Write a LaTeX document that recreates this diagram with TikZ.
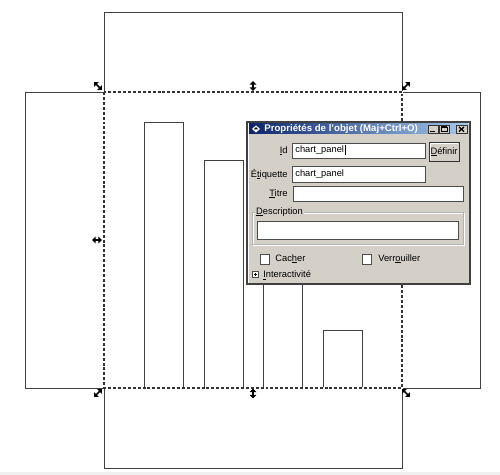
\documentclass[tikz,border=0pt]{standalone}
\usepackage{fontspec}
\setmainfont{Liberation Sans}
\usetikzlibrary{arrows.meta}
\definecolor{dlgbg}{HTML}{D4D0C8}
\definecolor{titleL}{HTML}{0A246A}
\definecolor{titleR}{HTML}{A6CAF0}
\definecolor{shapeln}{HTML}{404040}
\newcommand\dlgfont{\fontsize{5.3}{6}\selectfont}
\newcommand\ul[1]{\setbox0\hbox{#1}\rlap{\rule[-0.7pt]{\wd0}{0.3pt}}#1}

\begin{document}
\begin{tikzpicture}[x=0.02cm, y=-0.02cm,
  shp/.style={draw=shapeln, line width=0.5pt},
  handle/.style={line width=0.9pt, {Triangle[length=2pt,width=3.6pt]}-{Triangle[length=2pt,width=3.6pt]}},
  field/.style={fill=white, draw=gray!60!black, line width=0.5pt},
  lbl/.style={inner sep=0pt, font=\dlgfont},
  btn/.style={fill=dlgbg, draw=gray!40!black, line width=0.5pt}]
\useasboundingbox (0,0) rectangle (500,475);
\fill[gray!12] (0,472) rectangle (500,475);

% cross of panels
\draw[shp] (104,12) rectangle (402,92);
\draw[shp] (25,92) rectangle (480,388);
\draw[shp] (104,388) rectangle (402,468);

% bars
\draw[shp] (144,388) rectangle (183,122);
\draw[shp] (204,388) rectangle (243,160);
\draw[shp] (263,388) rectangle (302,230);
\draw[shp] (323,388) rectangle (362,330);

% selection box
\draw[white, line width=0.6pt] (104,92) rectangle (402,388);
\draw[black!80, line width=0.6pt, dash pattern=on 1.7pt off 1.1pt] (104,92) rectangle (402,388);
\draw[handle] (94,82) -- (102,90);
\draw[handle] (253,81) -- (253,91);
\draw[handle] (402,90) -- (410,82);
\draw[handle] (92,240) -- (102,240);
\draw[handle] (94,397) -- (102,389);
\draw[handle] (253,388.5) -- (253,398.5);
\draw[handle] (402,389) -- (410,397);

% dialog
\draw[fill=dlgbg, draw=gray!50!black, line width=0.6pt] (247,122) rectangle (470,284);
\draw[white, line width=0.5pt] (248,283) -- (248,123) -- (469,123);
\shade[left color=titleL, right color=titleR] (249,124) rectangle (468,134);
\fill[white] (256,125.5) -- (260,129) -- (256,132.5) -- (252,129) -- cycle;
\fill[black] (256,127) -- (258.3,129.5) -- (253.7,129.5) -- cycle;
\node[lbl, anchor=west, text=white, font=\fontsize{5.5}{6}\selectfont\bfseries] (title) at (264,129) {Propriétés de l'objet (Maj+Ctrl+O)};
\draw[btn] (428,125) rectangle (438,133);
\draw[btn] (439,125) rectangle (449,133);
\draw[btn] (456,125) rectangle (467,133);
\draw[line width=0.8pt] (430,131.5) -- (435,131.5);
\draw[line width=0.5pt] (441,127) rectangle (447,131.5);
\draw[line width=1pt] (441,127) -- (447,127);
\draw[line width=0.8pt] (459,127) -- (464,131.5) (464,127) -- (459,131.5);

\node[lbl, anchor=east] (idl) at (288,150.5) {\ul{I}d};
\draw[field] (292,143) rectangle (425,158);
\node[lbl, anchor=west] (idv) at (295,150.5) {chart\_panel};
\draw[line width=0.5pt] (idv.east) ++(0.8,-5) -- ++(0,10);
\draw[btn] (429,142) rectangle (459,161);
\draw[white, line width=0.5pt] (430,160) -- (430,143) -- (458,143);
\node[lbl] (def) at (444,151.5) {\ul{D}éfinir};

\node[lbl, anchor=east] (etl) at (288,174) {É\ul{t}iquette};
\draw[field] (292,166) rectangle (425,182);
\node[lbl, anchor=west] (etv) at (295,174) {chart\_panel};

\node[lbl, anchor=east] (til) at (288,193.5) {\ul{T}itre};
\draw[field] (293,186) rectangle (463,201);

\draw[draw=white, line width=0.5pt] (253,213) rectangle (464,245);
\draw[draw=gray!60, line width=0.5pt] (252,212) rectangle (463,244);
\node[lbl, anchor=west, fill=dlgbg, inner xsep=0.5pt] (desc) at (255,212) {\ul{D}escription};
\draw[field] (257,221) rectangle (458,239);

\draw[field] (260,254) rectangle (269,264);
\node[lbl, anchor=west] (cach) at (275,259) {Cac\ul{h}er};
\draw[field] (362,254) rectangle (371,264);
\node[lbl, anchor=west] (verr) at (378,259) {Verr\ul{o}uiller};

\draw[field] (252.5,271.5) rectangle (258.5,277.5);
\draw[line width=0.4pt] (253.8,274.5) -- (257.2,274.5) (255.5,272.8) -- (255.5,276.2);
\node[lbl, anchor=west] (inter) at (263,275) {\ul{I}nteractivité};
\end{tikzpicture}
\end{document}
